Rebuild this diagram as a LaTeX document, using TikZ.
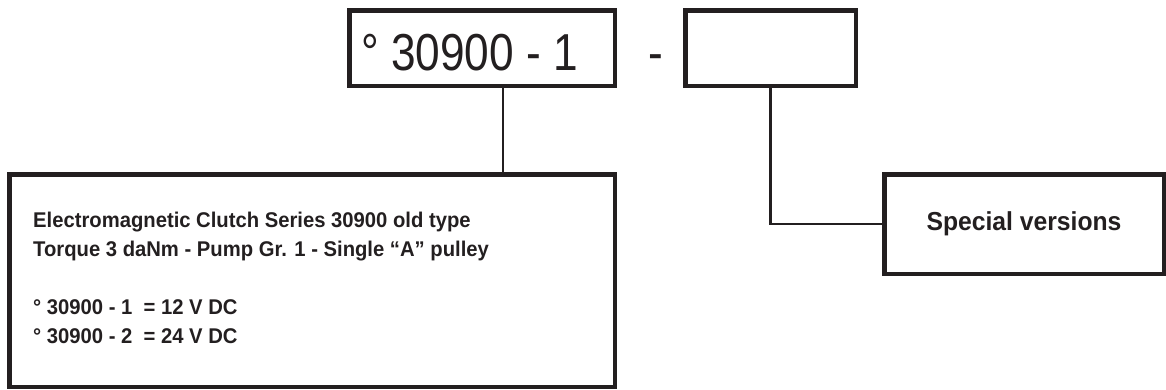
\documentclass[tikz,border=0pt]{standalone}
\usepackage{fontspec}
\setmainfont[FakeStretch=0.95]{Liberation Sans}
\newfontfamily\narrowfont[FakeStretch=0.85]{Liberation Sans}
\definecolor{ink}{HTML}{231F20}

\begin{document}
\begin{tikzpicture}[x=1pt,y=-1pt,
		box/.style={draw=ink,line width=4.5pt,rectangle,inner sep=0pt},
		link/.style={draw=ink,line width=2.5pt},
		big/.style={font=\fontsize{52}{52}\narrowfont,text=ink,inner sep=0pt},
		txt/.style={font=\fontsize{21.3}{29}\selectfont\bfseries,text=ink}]
		\useasboundingbox (0,0) rectangle (1166,389);
		\node[box,minimum width=265.5pt,minimum height=75.5pt](num) at (482,48){};
		\node[big,anchor=base west](numtxt) at (361,70){° 30900 - 1};
		\node[big,anchor=base](dash) at (656,70){-};
		\node[box,minimum width=170.5pt,minimum height=75.5pt](ext) at (770.5,48){};
		\node[box,minimum width=605.5pt,minimum height=212.5pt](desc) at (312,280.5){};
		\node[txt,anchor=north west,inner sep=0pt,align=left](desctxt) at (33,211.5){Electromagnetic Clutch Series 30900 old type\\Torque 3 daNm - Pump Gr. 1 - Single “A” pulley\\[29pt]° 30900 - 1\ \ = 12 V DC\\° 30900 - 2\ \ = 24 V DC};
		\node[box,txt,font=\fontsize{26}{29}\selectfont\bfseries,minimum width=279.5pt,minimum height=99.5pt](spec) at (1024,224){Special versions};
		\draw[link] (num.south -| 503,0) -- (desc.north -| 503,0);
		\draw[link] (ext.south) |- (spec.west);
	\end{tikzpicture}
\end{document}
